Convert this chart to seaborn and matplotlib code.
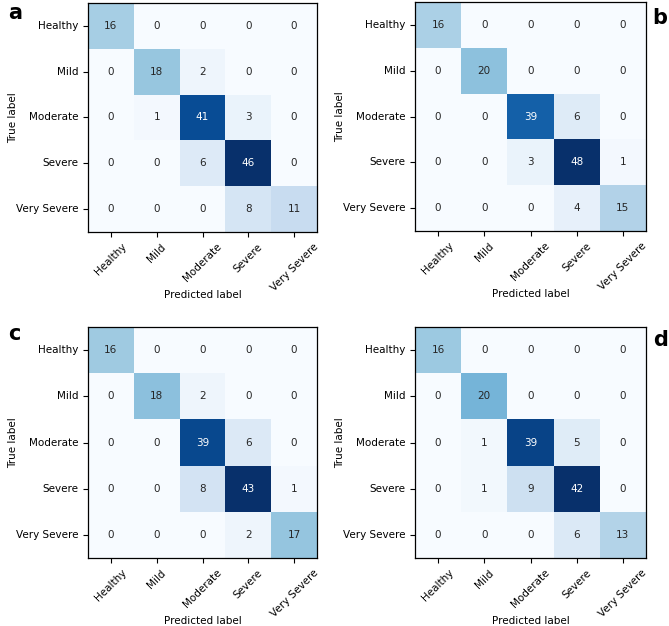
import numpy as np
import seaborn as sns
import matplotlib.pyplot as plt

classes = ['Healthy', 'Mild', 'Moderate', 'Severe', 'Very Severe']

cm_a = [[16, 0, 0, 0, 0],
        [0, 18, 2, 0, 0],
        [0, 1, 41, 3, 0],
        [0, 0, 6, 46, 0],
        [0, 0, 0, 8, 11]]

cm_b = [[16, 0, 0, 0, 0],
        [0, 20, 0, 0, 0],
        [0, 0, 39, 6, 0],
        [0, 0, 3, 48, 1],
        [0, 0, 0, 4, 15]]

cm_c = [[16, 0, 0, 0, 0],
        [0, 18, 2, 0, 0],
        [0, 0, 39, 6, 0],
        [0, 0, 8, 43, 1],
        [0, 0, 0, 2, 17]]

cm_d = [[16, 0, 0, 0, 0],
        [0, 20, 0, 0, 0],
        [0, 1, 39, 5, 0],
        [0, 1, 9, 42, 0],
        [0, 0, 0, 6, 13]]

panel_letters = ['a', 'b', 'c', 'd']

W, H = 669, 626
fig = plt.figure(figsize=(W / 100, H / 100), dpi=100)

# axes boxes in pixels: left, top, width, height
boxes = [(88, 3, 229, 229), (415, 2, 231, 229), (88, 327, 229, 231), (415, 327, 231, 231)]
letter_pos = [(0.012, 0.995, 'left'), (0.998, 0.988, 'right'),
              (0.012, 0.482, 'left'), (0.998, 0.473, 'right')]

for cm, box, letter, lp in zip([cm_a, cm_b, cm_c, cm_d], boxes, panel_letters, letter_pos):
    l, t, w, h = box
    ax = fig.add_axes([l / W, 1 - (t + h) / H, w / W, h / H])
    sns.heatmap(np.array(cm), annot=True, fmt='d', cmap='Blues', cbar=False,
                xticklabels=classes, yticklabels=classes, ax=ax,
                annot_kws={'fontsize': 7.5})
    for s in ax.spines.values():
        s.set_visible(True)
        s.set_linewidth(0.9)
    ax.tick_params(length=3.5, width=0.8, labelsize=7.5)
    plt.setp(ax.get_xticklabels(), rotation=45, ha='center')
    plt.setp(ax.get_yticklabels(), rotation=0)
    ax.set_xlabel('Predicted label', fontsize=7.5, labelpad=-2)
    ax.set_ylabel('True label', fontsize=7.5, labelpad=-2)
    fig.text(lp[0], lp[1], letter, fontsize=15, fontweight='bold', ha=lp[2], va='top')

plt.savefig('out.png', dpi=100)
